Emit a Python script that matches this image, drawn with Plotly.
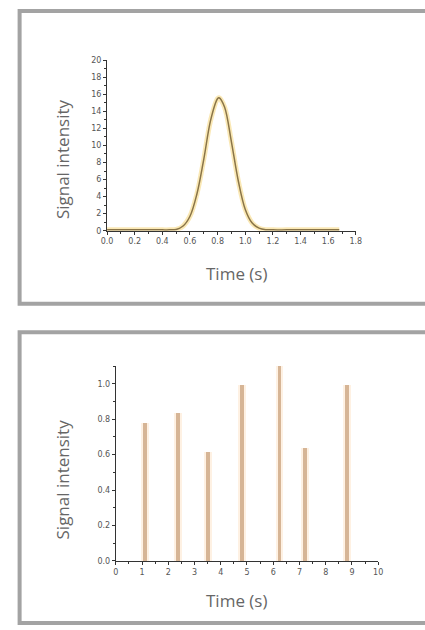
import plotly.graph_objects as go

# ---- data: top panel (peak signal) ----
peak_time = [0.0, 0.1, 0.2, 0.3, 0.4, 0.45, 0.5, 0.55, 0.6, 0.65, 0.7, 0.75, 0.8, 0.81,
             0.85, 0.9, 0.95, 1.0, 1.05, 1.1, 1.15, 1.2, 1.3, 1.4, 1.5, 1.6, 1.68]
peak_signal = [0.1, 0.1, 0.1, 0.1, 0.1, 0.1, 0.15, 0.55, 1.7, 4.3, 8.4, 13.0, 15.5, 15.6,
               14.5, 10.4, 5.8, 2.5, 0.9, 0.3, 0.12, 0.1, 0.1, 0.1, 0.1, 0.1, 0.1]

# ---- data: bottom panel (discrete pulses) ----
pulse_time = [1.10, 2.36, 3.50, 4.81, 6.23, 7.20, 8.81]
pulse_signal = [0.78, 0.835, 0.613, 0.99, 1.10, 0.637, 0.99]

top_xticks = [0.0, 0.2, 0.4, 0.6, 0.8, 1.0, 1.2, 1.4, 1.6, 1.8]
top_yticks = [0, 2, 4, 6, 8, 10, 12, 14, 16, 18, 20]
bot_xticks = [0, 1, 2, 3, 4, 5, 6, 7, 8, 9, 10]
bot_yticks = [0.0, 0.2, 0.4, 0.6, 0.8, 1.0]

W, H = 425, 630
def px(x): return x / W
def py(y): return 1 - y / H

fig = go.Figure()

# top: glow + core line
fig.add_trace(go.Scatter(x=peak_time, y=peak_signal, mode="lines", line=dict(color="rgba(248,222,150,0.7)", width=5, shape="spline"),
                         xaxis="x", yaxis="y", hoverinfo="skip", showlegend=False))
fig.add_trace(go.Scatter(x=peak_time, y=peak_signal, mode="lines", line=dict(color="#8a7548", width=1.5, shape="spline"),
                         xaxis="x", yaxis="y", showlegend=False))

# bottom: halo + bars
fig.add_trace(go.Bar(x=pulse_time, y=pulse_signal, width=0.3, marker=dict(color="rgba(253,232,208,0.6)", line=dict(width=0)),
                     xaxis="x2", yaxis="y2", hoverinfo="skip", showlegend=False))
fig.add_trace(go.Bar(x=pulse_time, y=pulse_signal, width=0.14, marker=dict(color="#d6b596", line=dict(width=0)),
                     xaxis="x2", yaxis="y2", showlegend=False))

tickfont = dict(family="DejaVu Sans", size=8, color="#555555")
axis_common = dict(showgrid=False, zeroline=False, showline=True, linecolor="#333333", linewidth=1,
                   ticks="outside", ticklen=3, tickcolor="#333333", tickfont=tickfont)

fig.update_layout(
    width=W, height=H, margin=dict(l=0, r=0, t=0, b=0),
    paper_bgcolor="white", plot_bgcolor="white", barmode="overlay", bargap=0,
    xaxis=dict(domain=[px(104), px(360)], range=[0, 1.8], anchor="y", tickvals=top_xticks,
               ticktext=[f"{v:.1f}" for v in top_xticks],
               minor=dict(dtick=0.1, ticks="outside", ticklen=2, tickcolor="#333333", showgrid=False), **axis_common),
    yaxis=dict(domain=[py(230), py(57)], range=[0, 20], anchor="x", tickvals=top_yticks,
               minor=dict(dtick=1, ticks="outside", ticklen=2, tickcolor="#333333", showgrid=False), **axis_common),
    xaxis2=dict(domain=[px(113), px(383)], range=[0, 10], anchor="y2", tickvals=bot_xticks,
                minor=dict(dtick=0.5, ticks="outside", ticklen=2, tickcolor="#333333", showgrid=False), **axis_common),
    yaxis2=dict(domain=[py(565), py(367.3)], range=[0, 1.1], anchor="x2", tickvals=bot_yticks,
                ticktext=[f"{v:.1f}" for v in bot_yticks],
                minor=dict(dtick=0.1, ticks="outside", ticklen=2, tickcolor="#333333", showgrid=False), **axis_common),
)

frame_color = "#a3a3a3"
fig.add_shape(type="rect", xref="paper", yref="paper", x0=px(14), x1=px(440), y0=py(304), y1=py(7),
              line=dict(color=frame_color, width=4), fillcolor="rgba(0,0,0,0)")
fig.add_shape(type="rect", xref="paper", yref="paper", x0=px(14), x1=px(440), y0=py(628), y1=py(333),
              line=dict(color=frame_color, width=4), fillcolor="rgba(0,0,0,0)")

title_font = dict(family="Open Sans", size=17, color="#666666")
fig.add_annotation(text="Signal intensity", x=px(58), y=py(157), xref="paper", yref="paper",
                   textangle=-90, showarrow=False, font=title_font, xanchor="center", yanchor="middle")
fig.add_annotation(text="Time (s)", x=px(237), y=py(273), xref="paper", yref="paper",
                   showarrow=False, font=title_font, xanchor="center", yanchor="middle")
fig.add_annotation(text="Signal intensity", x=px(58), y=py(482), xref="paper", yref="paper",
                   textangle=-90, showarrow=False, font=title_font, xanchor="center", yanchor="middle")
fig.add_annotation(text="Time (s)", x=px(237), y=py(605), xref="paper", yref="paper",
                   showarrow=False, font=title_font, xanchor="center", yanchor="middle")

fig.write_html("out.html", config={"displayModeBar": False},
               post_script="document.body.style.margin='0';document.body.style.overflow='hidden';")
